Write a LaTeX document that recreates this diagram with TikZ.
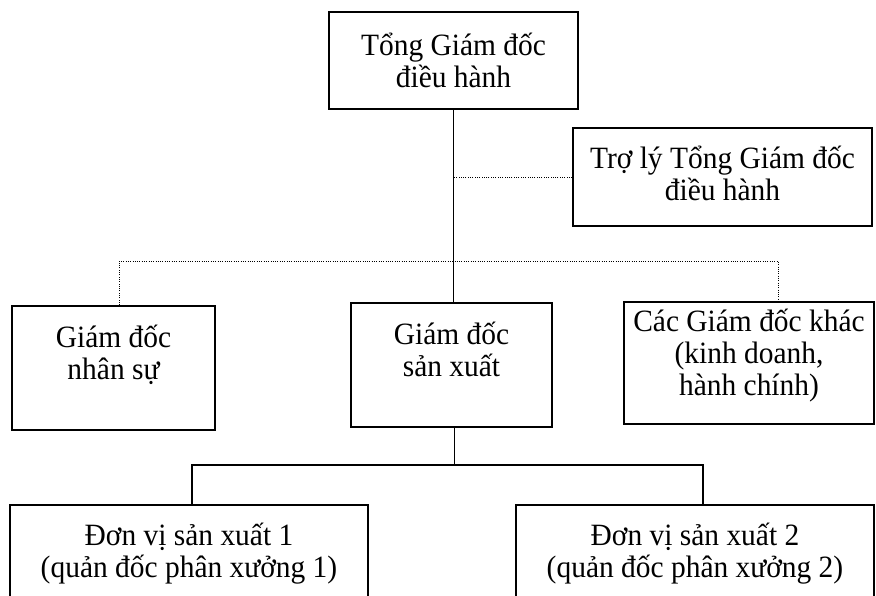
\documentclass[tikz,border=0pt]{standalone}
\usepackage{fontspec}
\setmainfont[FakeStretch=0.95]{Liberation Serif}
\usetikzlibrary{calc}

\begin{document}
\begin{tikzpicture}[
    x=1pt, y=-1pt,
    block/.style={draw, line width=1.8pt, align=center, inner sep=0pt, font=\fontsize{31}{32}\selectfont},
    link/.style={line width=1.5pt},
    dotlink/.style={line width=0.9pt, dash pattern=on 0.9pt off 1.4pt}
]
\clip (0,0) rectangle (876,595);
% boxes
\node[block, minimum width=249, minimum height=97] (ceo) at (453.5,60.5) {Tổng Giám đốc\\điều hành};
\node[block, minimum width=299, minimum height=98] (assist) at (722.5,177) {Trợ lý Tổng Giám đốc\\điều hành\\[-24pt]\mbox{}};
\node[block, minimum width=203, minimum height=124] (hr) at (113.5,368) {Giám đốc\\nhân sự\\\mbox{}};
\node[block, minimum width=201, minimum height=124] (prod) at (451.5,365) {Giám đốc\\sản xuất\\\mbox{}};
\node[block, minimum width=250, minimum height=122] (other) at (749,363) {Các Giám đốc khác\\(kinh doanh,\\hành chính)\\[-10pt]\mbox{}};
\node[block, minimum width=358, minimum height=122] (unit1) at (189,566) {Đơn vị sản xuất 1\\(quản đốc phân xưởng 1)\\\mbox{}};
\node[block, minimum width=358, minimum height=122] (unit2) at (695,566) {Đơn vị sản xuất 2\\(quản đốc phân xưởng 2)\\\mbox{}};
\coordinate (split) at ($(prod.south)+(3,37)$);
% lines
\draw[link] (ceo.south) -- (ceo.south |- prod.north);
\draw[dotlink] (assist.west) -- (assist.west -| ceo.south);
\draw[dotlink] ([xshift=5.5pt]hr.north) -- ++(0,-44) -| ([xshift=29pt]other.north);
\draw[link] (prod.south -| split) -- (split);
\draw[link] ([xshift=3pt]unit1.north) |- (split) -| ([xshift=8pt]unit2.north);
\end{tikzpicture}
\end{document}
